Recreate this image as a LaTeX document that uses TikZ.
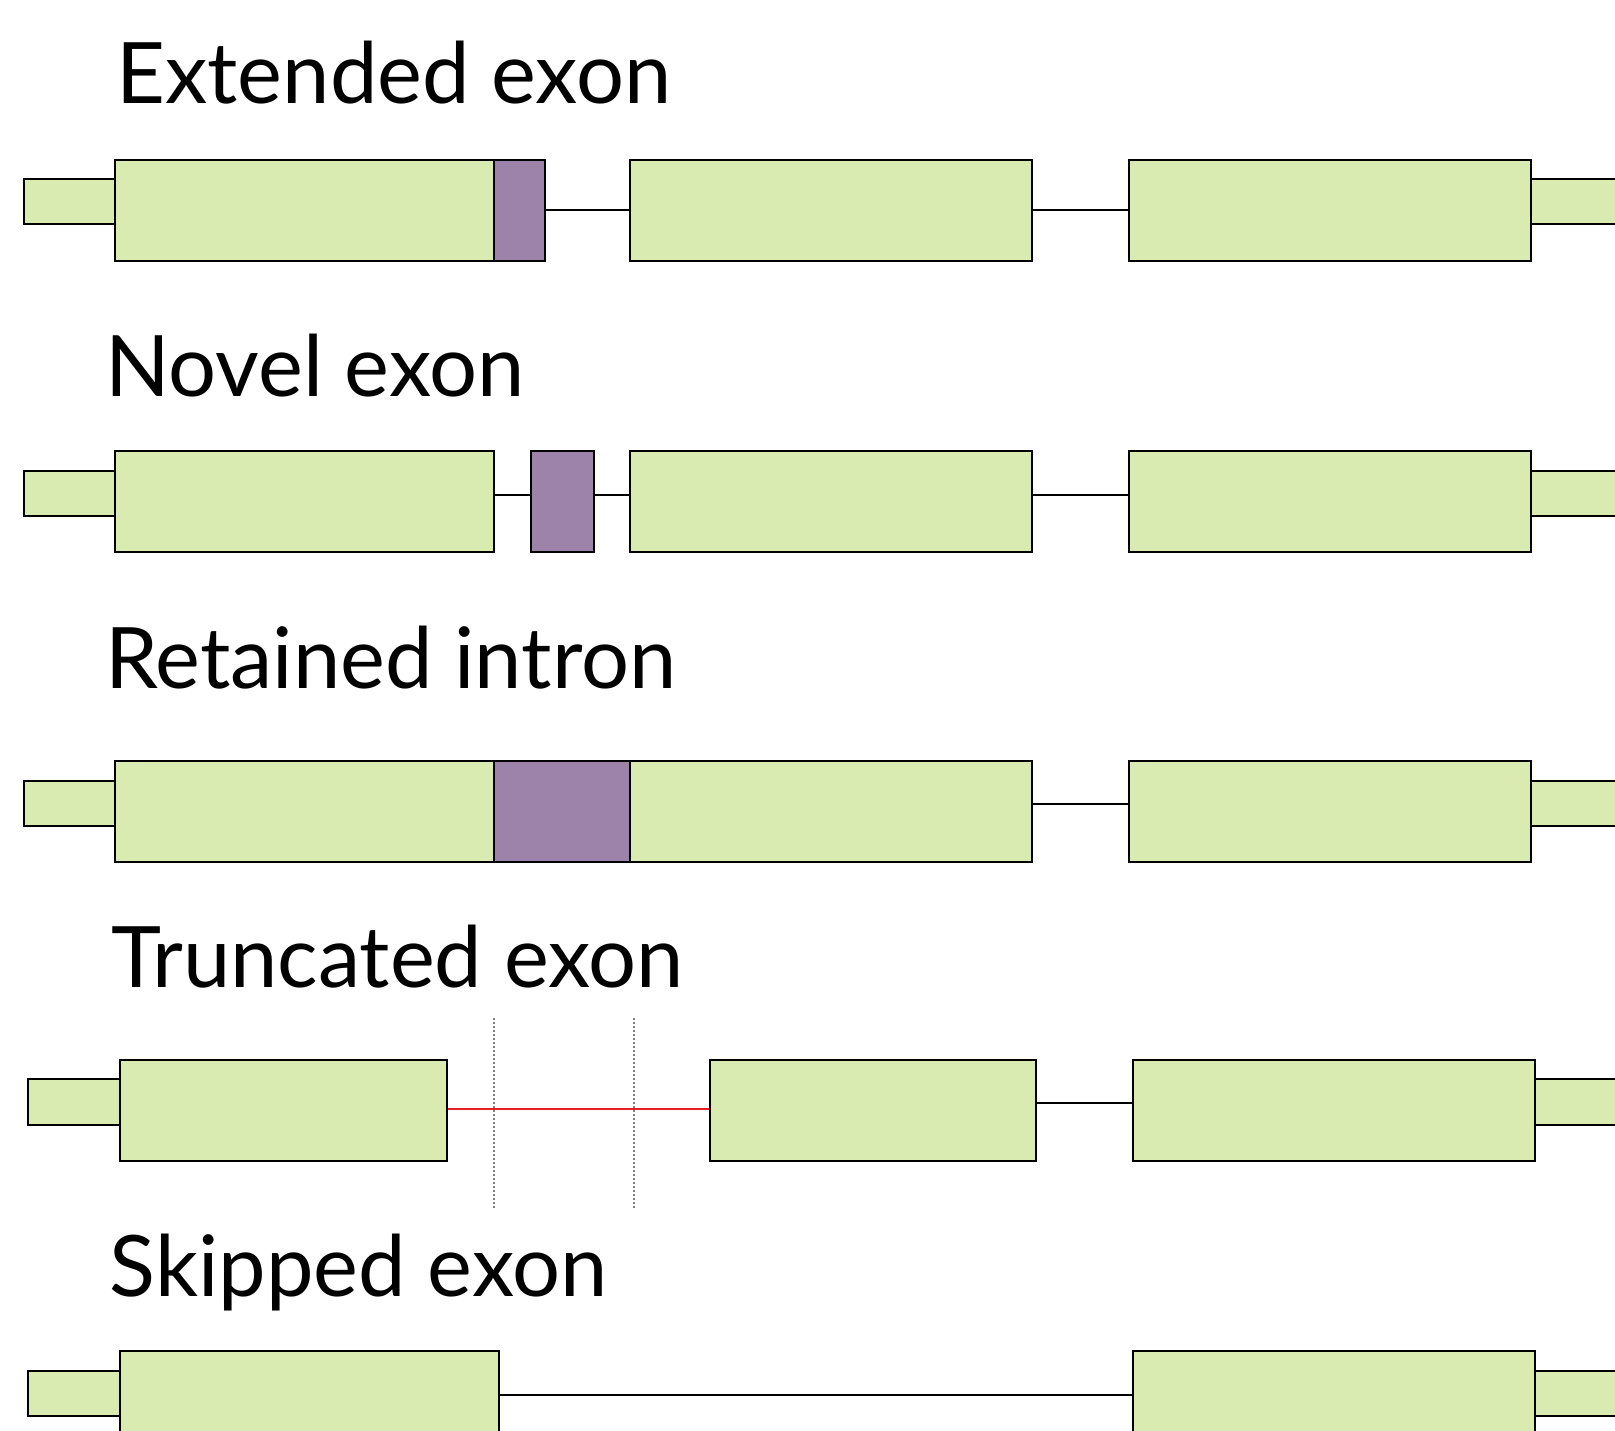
\documentclass[tikz,border=0pt]{standalone}
\usepackage{fontspec}
\setmainfont{Lato}
\usetikzlibrary{fit}
\definecolor{exonfill}{RGB}{218,235,177}
\definecolor{newfill}{RGB}{157,130,170}
\definecolor{gapred}{RGB}{228,32,32}
\definecolor{cutgray}{RGB}{130,130,130}
\tikzset{
  exon/.style={draw=black, fill=exonfill, line width=1pt, inner sep=0pt},
  novel/.style={exon, fill=newfill},
  intron/.style={black, line width=1pt},
  rowtitle/.style={anchor=base west, inner sep=0pt, font=\fontsize{42.4}{50}\selectfont},
}

\begin{document}
\begin{tikzpicture}[x=0.5pt, y=-0.5pt]
	\useasboundingbox (0,0) rectangle (1615,1430);
	\clip (0,0) rectangle (1615,1430);

	% extended exon
	\node[rowtitle] (ttlA) at (116,103) {Extended exon};
	\node[exon, fit={(23.7,179) (115.4,224)}] (a0) {};
	\node[exon, fit={(115.4,159.5) (494.4,261)}] (a1) {};
	\node[novel, fit={(494.4,159.5) (545,261)}] (ax) {};
	\node[exon, fit={(630.4,159.5) (1032,261)}] (a2) {};
	\node[exon, fit={(1530.6,179) (1640,224)}] (a4) {};
	\node[exon, fit={(1129,159.5) (1530.6,261)}] (a3) {};
	\draw[intron] (ax) -- (a2);
	\draw[intron] (a2) -- (a3);

	% novel exon
	\node[rowtitle] (ttlB) at (105,396.5) {Novel exon};
	\node[exon, fit={(23.7,470.7) (115.4,516)}] (b0) {};
	\node[exon, fit={(115.4,451) (494.4,552)}] (b1) {};
	\node[novel, fit={(530.5,451) (594,552)}] (bx) {};
	\node[exon, fit={(630.4,451) (1032,552)}] (b2) {};
	\node[exon, fit={(1530.6,470.7) (1640,516)}] (b4) {};
	\node[exon, fit={(1129,451) (1530.6,552)}] (b3) {};
	\draw[intron] ([yshift=3.25pt]b1.east) -- ([yshift=3.25pt]bx.west);
	\draw[intron] ([yshift=3.25pt]bx.east) -- ([yshift=3.25pt]b2.west);
	\draw[intron] ([yshift=3.25pt]b2.east) -- ([yshift=3.25pt]b3.west);

	% retained intron
	\node[rowtitle] (ttlC) at (105,688) {Retained intron};
	\node[exon, fit={(23.7,780.7) (115.4,826)}] (c0) {};
	\node[exon, fit={(115.4,761) (494.4,862)}] (c1) {};
	\node[exon, fit={(630.4,761) (1032,862)}] (c2) {};
	\node[novel, fit={(494.4,761) (630.4,862)}] (cx) {};
	\node[exon, fit={(1530.6,780.7) (1640,826)}] (c4) {};
	\node[exon, fit={(1129,761) (1530.6,862)}] (c3) {};
	\draw[intron] ([yshift=3.75pt]c2.east) -- ([yshift=3.75pt]c3.west);

	% truncated exon
	\node[rowtitle] (ttlD) at (111,987) {Truncated exon};
	\coordinate (cutL) at (494,1018);
	\coordinate (cutR) at (634,1018);
	\draw[cutgray, line width=0.6pt, dash pattern=on 1pt off 1pt] (cutL) -- ++(0,192);
	\draw[cutgray, line width=0.6pt, dash pattern=on 1pt off 1pt] (cutR) -- ++(0,192);
	\node[exon, fit={(27.8,1079) (119.5,1125)}] (d0) {};
	\node[exon, fit={(119.5,1059.5) (447,1161)}] (d1) {};
	\node[exon, fit={(709.6,1059.5) (1036,1161)}] (d2) {};
	\node[exon, fit={(1534.5,1079) (1640,1125)}] (d4) {};
	\node[exon, fit={(1133,1059.5) (1534.5,1161)}] (d3) {};
	\draw[gapred, line width=1pt] ([yshift=0.75pt]d1.east) -- ([yshift=0.75pt]d2.west);
	\draw[intron] ([yshift=3.5pt]d2.east) -- ([yshift=3.5pt]d3.west);

	% skipped exon
	\node[rowtitle] (ttlE) at (109.5,1296) {Skipped exon};
	\node[exon, fit={(27.8,1371) (119.5,1416)}] (e0) {};
	\node[exon, fit={(119.5,1351) (498.5,1452)}] (e1) {};
	\node[exon, fit={(1534.5,1371) (1640,1416)}] (e4) {};
	\node[exon, fit={(1133,1351) (1534.5,1452)}] (e3) {};
	\draw[intron] ([yshift=3.25pt]e1.east) -- ([yshift=3.25pt]e3.west);
\end{tikzpicture}
\end{document}
